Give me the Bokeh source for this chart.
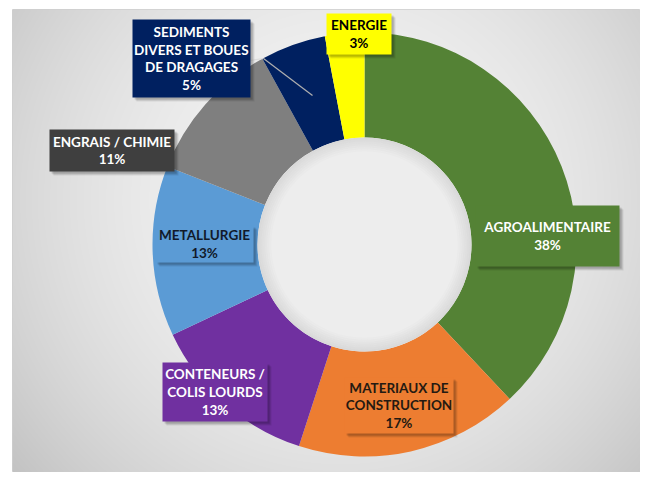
import numpy as np
from bokeh.plotting import figure
from bokeh.models import Range1d
from bokeh.embed import file_html
from bokeh.resources import INLINE
from bokeh.core.properties import value

# ---- data ----
categories = ["AGROALIMENTAIRE", "MATERIAUX DE\nCONSTRUCTION", "CONTENEURS /\nCOLIS LOURDS",
              "METALLURGIE", "ENGRAIS / CHIMIE", "SEDIMENTS\nDIVERS ET BOUES\nDE DRAGAGES", "ENERGIE"]
shares = [38, 17, 13, 13, 11, 5, 3]

# ---- styles ----
slice_colors = ["#548235", "#ED7D31", "#7030A0", "#5B9BD5", "#7F7F7F", "#002060", "#FFFF00"]
box_colors = ["#548235", "#ED7D31", "#7030A0", "#5B9BD5", "#3F3F3F", "#002060", "#FFFF00"]
text_colors = ["#FFFFFF", "#241a12", "#FFFFFF", "#111a2a", "#FFFFFF", "#FFFFFF", "#000000"]

# label box layout in page pixels (left, right, top, bottom)
box_l = [475, 344, 162, 155, 49, 132, 326]
box_r = [619, 453, 267, 253, 174, 250, 391]
box_t = [205, 377, 362, 225, 129, 19, 13]
box_b = [266, 433, 421, 262, 171, 97, 54]

H = 477
cx, cy = 364, H - 244
r_out, r_in = 212, 107

p = figure(width=640, height=472, x_range=Range1d(12, 640), y_range=Range1d(H - 472, H - 9),
           output_backend="svg", toolbar_location=None,
           min_border_left=12, min_border_top=9, min_border_right=0, min_border_bottom=0)
p.axis.visible = False
p.grid.visible = False
p.outline_line_color = "#cfcfcf"
p.background_fill_color = "#FFFFFF"
p.border_fill_color = "#FFFFFF"

# background radial gradient
nx, ny = 628, 463
xs = 12 + np.arange(nx) + 0.5
ys_screen = 472 - (np.arange(ny) + 0.5)
X, Y = np.meshgrid(xs, ys_screen)
d2 = ((X - 340) ** 2 + (Y - 200) ** 2) / 420.0 ** 2
val = np.clip(244 - 48 * d2, 180, 250).astype(np.uint8)
img = np.empty((ny, nx), dtype=np.uint32)
view = img.view(dtype=np.uint8).reshape((ny, nx, 4))
view[:, :, 0] = val
view[:, :, 1] = val
view[:, :, 2] = val
view[:, :, 3] = 255
p.image_rgba(image=[img], x=12, y=H - 472, dw=nx, dh=ny)

# donut slices (clockwise from 12 o'clock)
cum = np.concatenate([[0], np.cumsum(shares)]) / float(sum(shares))
starts = [np.pi / 2 - 2 * np.pi * cum[i + 1] for i in range(len(shares))]
ends = [np.pi / 2 - 2 * np.pi * cum[i] for i in range(len(shares))]
p.annular_wedge(x=cx, y=cy, inner_radius=r_in, outer_radius=r_out,
                start_angle=starts, end_angle=ends,
                fill_color=slice_colors, line_color=None)

# hole shading
p.circle(x=cx, y=cy, radius=r_in, fill_color="#ededed", line_color=None)
for k in range(7):
    p.annulus(x=cx, y=cy, inner_radius=r_in - 2 * (k + 1), outer_radius=r_in - 2 * k,
              fill_color="#000000", fill_alpha=0.012 * (7 - k), line_color=None)

# leader line for SEDIMENTS
p.line([250, 263], [H - 60, H - 58], line_color="#dcdcdc", line_width=1.2)
p.line([263, 312], [H - 58, H - 95], line_color="#b0b0b0", line_width=1.2)

# label boxes with soft shadow
left = box_l
right = box_r
top = [H - t for t in box_t]
bottom = [H - b for b in box_b]
for off, alpha in [(4, 0.08), (3, 0.1), (2, 0.12)]:
    p.quad(left=[l + off for l in left], right=[r + off for r in right],
           top=[t - off for t in top], bottom=[b - off for b in bottom],
           fill_color="#000000", fill_alpha=alpha, line_color=None)
p.quad(left=left, right=right, top=top, bottom=bottom,
       fill_color=box_colors, line_color=None)

labels = [c + "\n" + f"{v}%" for c, v in zip(categories, shares)]
tx = [(l + r) / 2 for l, r in zip(left, right)]
ty = [(t + b) / 2 for t, b in zip(top, bottom)]
p.text(x=tx, y=ty, text=labels, text_font=value("Lato"), text_font_style="bold",
       text_font_size="13.5px", text_color=text_colors, text_align="center",
       text_baseline="middle", text_line_height=1.12)

open("out.html", "w").write(file_html(p, INLINE))
